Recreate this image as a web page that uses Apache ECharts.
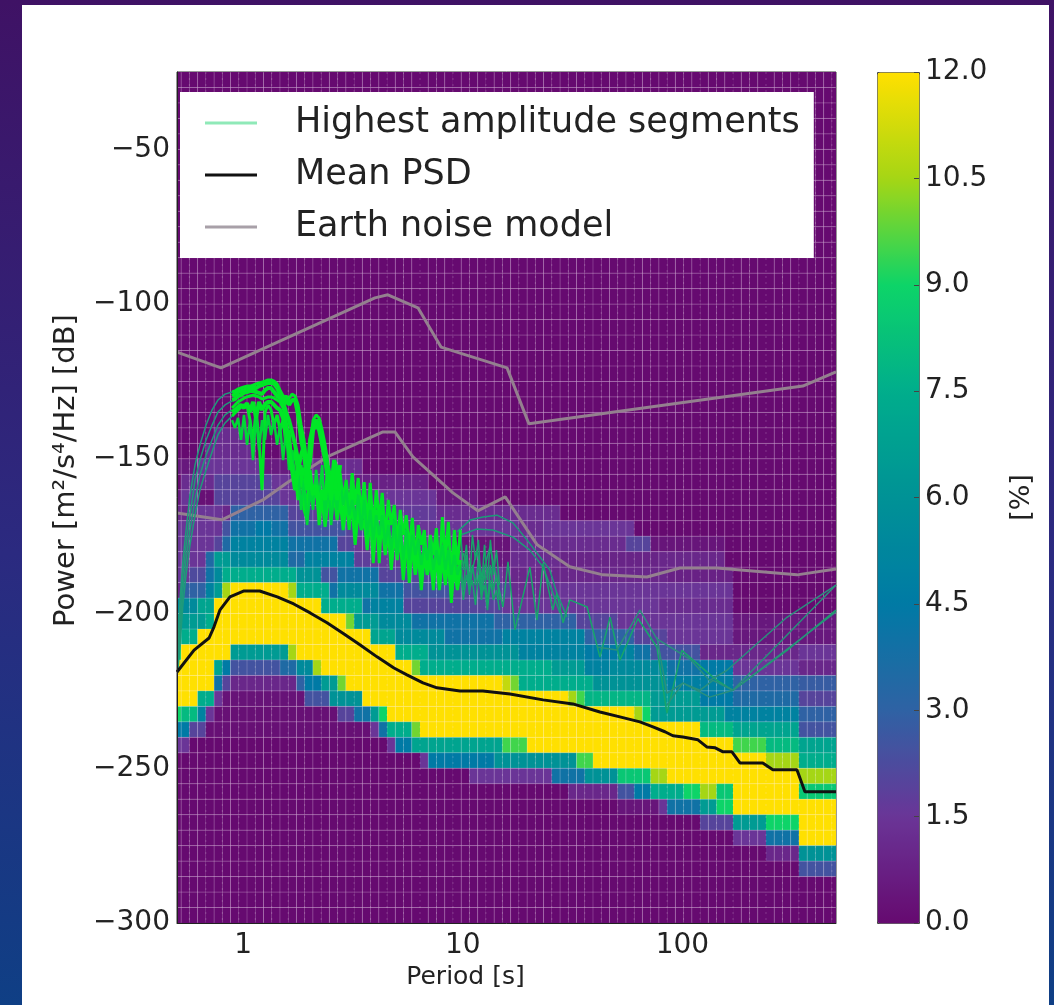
<!DOCTYPE html>
<html>
<head>
<meta charset="utf-8">
<script src="https://cdn.jsdelivr.net/npm/echarts@6/dist/echarts.min.js"></script>
<style>
  html, body { margin: 0; padding: 0; width: 1054px; height: 1005px; overflow: hidden;
    background: linear-gradient(180deg, #3f1265 0%, #2b2a80 55%, #0f3f85 100%); }
  #card { position: absolute; left: 22px; top: 5px; width: 1027px; height: 1000px; background: #fff; }
  #chart { position: absolute; left: 0; top: 0; width: 1054px; height: 1005px; }
</style>
</head>
<body>
<div id="card"></div>
<div id="chart"></div>
<script>
// histogram rows, key is the upper edge of a 5 dB bin, runs are [first column, last column, percent]
const rowM140 = [[5,8,1.2]]
const rowM145 = [[4,9,1.2]]
const rowM150 = [[0,2,0.5],[3,10,1.5],[11,15,0.6],[16,22,1.2]]
const rowM155 = [[1,4,1.2],[5,11,2],[12,21,1.5],[22,30,0.8]]
const rowM160 = [[0,0,0.5],[1,2,1.5],[3,4,0.2],[5,12,2],[13,31,1.5],[32,36,0.5]]
const rowM165 = [[0,1,1],[2,5,1.5],[6,6,1],[7,13,3],[14,16,2],[17,31,1.7],[32,46,1.2]]
const rowM170 = [[0,5,1.5],[6,6,2.5],[7,9,4],[10,11,4.5],[12,13,4],[14,20,2.5],[21,27,2],[28,41,1.5],[42,44,1.2],[45,55,1.5]]
const rowM175 = [[0,4,1.5],[5,5,2],[6,6,3.5],[7,13,5],[14,19,4],[20,21,2],[22,33,1.5],[34,40,0.3],[41,54,1.2],[55,57,2],[58,66,0.4]]
const rowM180 = [[0,3,1.5],[4,4,3.5],[5,6,6.5],[7,13,5.5],[14,15,3.5],[16,21,5],[22,23,1.8],[24,34,1.6],[35,40,0.5],[41,46,1.2],[47,58,0.9],[59,66,1]]
const rowM185 = [[0,1,1.5],[2,3,2.2],[4,4,4],[5,5,5.5],[6,14,7.5],[15,17,6],[18,19,2.5],[20,24,4],[25,33,2],[34,39,1.5],[40,59,1],[60,67,0.8]]
const rowM190 = [[0,0,1],[1,3,3],[4,4,5],[5,5,6.5],[6,6,10.5],[7,13,12],[14,14,10.5],[15,18,7.5],[19,19,4],[20,24,5.5],[25,27,4],[28,33,2.5],[34,40,2],[41,45,1.2],[46,67,1.5]]
const rowM195 = [[0,2,5.5],[3,4,7],[5,17,12],[18,22,7.5],[23,23,4],[24,27,5],[28,39,2],[40,58,1.5],[59,67,1.2]]
const rowM200 = [[0,3,6.5],[4,4,7.5],[5,20,12],[21,21,10],[22,24,6.5],[25,28,5.5],[29,38,4],[39,48,3],[49,53,2],[54,67,1.5],[68,80,0.5]]
const rowM205 = [[0,2,7.5],[3,23,12],[24,26,7],[27,32,5.5],[33,39,4],[40,49,5],[50,55,3],[56,59,2],[60,67,1.5],[68,80,0.5]]
const rowM210 = [[0,0,9],[1,6,12],[7,13,6.5],[14,14,10.5],[15,26,12],[27,30,7.5],[31,41,6],[42,49,5],[50,53,4.5],[54,55,5],[56,57,4],[58,63,2.5],[64,75,1],[76,80,1.5]]
const rowM215 = [[0,4,12],[5,5,7],[6,6,4.5],[7,12,2.5],[13,14,3.5],[15,16,5.5],[17,17,10.5],[18,28,12],[29,29,10],[30,45,7.5],[46,49,6.5],[50,52,5],[53,59,5.5],[60,63,4],[64,67,4.5],[68,75,1.5],[76,80,1]]
const rowM220 = [[0,4,12],[5,5,4],[6,6,2],[7,14,1],[15,15,3],[16,17,4.5],[18,19,6.5],[20,20,10],[21,39,12],[40,40,11],[41,41,10],[42,50,7.5],[51,59,6],[60,67,4.8],[68,75,3],[76,80,2.8]]
const rowM225 = [[0,2,12],[3,4,7.5],[5,5,1.5],[6,15,0.3],[16,18,2.5],[19,22,6],[23,47,12],[48,48,10.5],[49,49,9.5],[50,57,7.8],[58,63,6.5],[64,67,4.5],[68,75,3.5],[76,80,2]]
const rowM230 = [[0,0,9],[1,2,8],[3,3,5],[4,4,1.5],[5,19,0.2],[20,21,2],[22,23,4],[24,24,6.5],[25,25,9],[26,55,12],[56,56,10.5],[57,57,9],[58,66,6.5],[67,75,5],[76,80,3]]
const rowM235 = [[0,1,4.5],[2,3,2],[4,23,0.2],[24,24,1.5],[25,25,4],[26,28,7.5],[29,29,10],[30,63,12],[64,67,8],[68,75,7],[76,80,2.5]]
const rowM240 = [[0,1,1.5],[26,26,1.5],[27,28,4.5],[29,39,7],[40,42,9.5],[43,67,12],[68,71,9.5],[72,75,8],[76,80,7]]
const rowM245 = [[30,30,1.5],[31,38,4.5],[39,48,6],[49,50,9.5],[51,71,12],[72,75,10.5],[76,80,7.5]]
const rowM250 = [[36,45,1.5],[46,49,4],[50,53,6],[54,57,8.5],[58,59,10.5],[60,75,12],[76,80,10.5]]
const rowM255 = [[48,53,1],[54,55,2.5],[56,57,4.5],[58,61,7.5],[62,63,9],[64,65,10.5],[66,67,8.5],[68,75,12],[76,80,8.5]]
const rowM260 = [[54,58,0.4],[59,59,1.5],[60,63,4],[64,65,6.5],[66,67,9],[68,80,12]]
const rowM265 = [[64,67,2],[68,71,6.5],[72,75,9],[76,80,12]]
const rowM270 = [[68,71,1.5],[72,75,4],[76,80,12]]
const rowM275 = [[72,75,1],[76,80,6]]
const rowM280 = [[76,80,2.5]]

const rowsByPower = {
  '-140': rowM140, '-145': rowM145, '-150': rowM150, '-155': rowM155, '-160': rowM160, '-165': rowM165,
  '-170': rowM170, '-175': rowM175, '-180': rowM180, '-185': rowM185, '-190': rowM190, '-195': rowM195,
  '-200': rowM200, '-205': rowM205, '-210': rowM210, '-215': rowM215, '-220': rowM220, '-225': rowM225,
  '-230': rowM230, '-235': rowM235, '-240': rowM240, '-245': rowM245, '-250': rowM250, '-255': rowM255,
  '-260': rowM260, '-265': rowM265, '-270': rowM270, '-275': rowM275, '-280': rowM280
}

const meanPeriod = [0.5,0.598,0.7,0.737,0.785,0.871,1.01,1.19,1.43,1.7,2.02,2.41,2.88,3.4,4.07,4.86,5.57,6.59,7.63,9.71,12.35,16.4,23.2,31.7,42.1,51.9,64,73.4,83.2,90.5,100.5,117.6,129,141,153,168,183,232,258,332,361,500]
const meanPower = [-218.9,-211.8,-207.9,-204.3,-198.8,-194.6,-192.7,-192.7,-194.6,-196.9,-199.8,-203,-206.6,-210.1,-214,-217.6,-219.8,-222.4,-224,-225,-225,-226,-227.9,-229.2,-231.8,-233.4,-235,-236.6,-238.2,-239.5,-239.9,-240.8,-243.1,-243.4,-244.7,-244.7,-248.3,-248.3,-250.5,-250.5,-257.6,-257.6]

const earthHighPeriod = [0.5,0.793,3.98,4.56,6.25,7.96,15.9,20,353,500]
const earthHighPower = [-115.5,-120.6,-98,-97,-101.2,-113.9,-120.6,-138.7,-126.5,-121.9]
const earthLowPeriod = [0.5,0.8,1.23,1.58,2.41,4.33,4.91,5.93,9.02,11.7,15.6,21.8,30.7,43.5,68.9,97.4,143.5,332,500]
const earthLowPower = [-167.5,-169.7,-163.3,-157.8,-149.4,-141.3,-141.3,-149.4,-161,-166.8,-162.3,-177.8,-184.9,-187.5,-188.2,-185.3,-185.3,-187.5,-185.6]

// rising flank of the highest amplitude segments
const risePeriod = [0.505,0.516,0.532,0.55,0.573,0.604,0.636,0.678,0.722,0.768,0.827,0.89]
const riseA = [-213.4,-195.6,-182.7,-173,-161.7,-152,-145.5,-139.1,-134.2,-131,-129.1,-128.4]
const riseB = [-215,-202.1,-187.5,-177.8,-168.2,-156.8,-150.4,-143.9,-139.1,-134.9,-132.6,-131.3]
const riseC = [-216.6,-206.9,-192.4,-182.7,-173,-163.3,-155.2,-148.8,-143.9,-139.1,-135.8,-134.2]
const riseD = [-218.2,-210.2,-197.2,-187.5,-177.8,-168.2,-160.1,-153.6,-147.8,-142.3,-138.4,-136.2]

// the noisy bright bundle
const bundlePeriod = [0.89,0.918,0.948,0.978,1.009,1.042,1.075,1.109,1.145,1.181,1.219,1.258,1.298,1.34,1.383,1.427,1.473,1.52,1.568,1.618,1.67,1.724,1.779,1.836,1.894,1.955,2.018,2.082,2.149,2.218,2.289,2.362,2.438,2.516,2.596,2.679,2.765,2.854,2.945,3.039,3.137,3.237,3.341,3.448,3.558,3.672,3.79,3.911,4.036,4.165,4.299,4.436,4.578,4.725,4.876,5.032,5.193,5.359,5.531,5.708,5.891,6.079,6.274,6.475,6.682,6.896,7.116,7.344,7.579,7.822,8.072,8.331,8.597,8.872,9.156,9.45,9.752,10.06,10.39,10.72,11.06,11.42,11.78,12.16,12.55,12.95,13.36,13.79,14.23,14.69]
const bundleA = [-128.4,-128.1,-127.4,-127.1,-126.8,-126.5,-126.5,-126.2,-125.8,-125.5,-125.2,-124.9,-124.5,-124.5,-124.9,-125.8,-127.8,-129.7,-132.3,-130.4,-129.1,-129.7,-132.6,-139.1,-143.9,-153.6,-147.2,-137.5,-135.8,-136.8,-140.7,-145.5,-152,-156.8,-153.6,-156.8,-154.6,-163.3,-156.8,-166.5,-154.6,-164.9,-156.2,-168.2,-157.5,-171.4,-157.8,-173,-160.1,-169.8,-161,-176.2,-163.3,-171.4,-164.9,-177.8,-166.5,-174.6,-168.2,-179.5,-169.1,-182.7,-171.4,-177.8,-173,-185.9,-174.6,-181.1,-172.4,-187.5,-168.8,-182.7,-170.4,-189.2,-173,-184.3,-173,-185.9,-177.8,-190.8,-174.6,-182.7,-176.2,-192.4,-177.8,-189.2,-176.2,-187.5,-179.5,-190.8]
const bundleB = [-133.6,-132.6,-131.6,-131,-130.4,-130,-129.7,-129.4,-129.7,-130,-130.7,-130.4,-130,-130,-130.4,-131,-131.6,-133.6,-137.5,-143.9,-149.7,-155.2,-163.3,-153.6,-160.1,-164.9,-153.6,-161.7,-156.8,-171.4,-160.1,-166.5,-156.2,-169.8,-158.5,-168.2,-160.1,-169.8,-161.7,-173,-160.1,-174.6,-163.3,-171.4,-164.9,-176.2,-163.3,-177.8,-166.5,-183.7,-164.9,-179.5,-169.8,-184.3,-171.4,-182.7,-173,-185.9,-174.6,-190.1,-176.2,-185.9,-177.8,-189.2,-176.2,-187.5,-179.5,-192.4,-177.8,-185.9,-179.5,-190.8,-181.1,-196.6,-179.5,-189.2,-182.7,-192.4,-181.1,-194,-184.3,-190.8,-182.7,-195.6,-185.9,-197.2,-184.3,-192.4,-187.5,-195.6]
const bundleC = [-136.2,-135.2,-134.2,-133.3,-132.6,-132.6,-137.5,-144.9,-134.2,-143.9,-160.1,-134.9,-132.6,-134.2,-139.1,-135.8,-140.7,-137.5,-145.5,-140.7,-152,-147.2,-156.2,-152,-166.5,-169.8,-156.8,-163.3,-160.1,-168.2,-163.3,-172,-163.3,-166.5,-161.7,-169.8,-163.3,-173,-164.9,-169.8,-166.5,-177.8,-166.5,-173,-169.8,-179.5,-168.2,-183.7,-169.8,-177.8,-171.4,-181.1,-173,-185.9,-174.6,-181.1,-176.2,-189.2,-177.8,-184.3,-179.5,-187.5,-181.1,-192.4,-181.1,-187.5,-182.7,-190.8,-181.1,-192.4,-182.7,-189.2,-184.3,-194,-185.9,-192.4,-185.9,-195.6,-187.5,-192.4,-189.2,-197.2,-187.5,-194,-190.8,-198.9,-189.2,-195.6,-192.4,-198.9]

// extra segments that fill the two arms and the lobes, same periods as the start of the bundle
const blobD = [-129.7,-129.1,-128.4,-128.1,-127.8,-127.4,-127.4,-127.1,-127.1,-126.5,-126.2,-125.8,-125.5,-125.5,-125.8,-127.1,-129.4,-131.6,-134.9,-137.5,-141.3,-145.5,-150.4,-155.2,-153,-160.1,-156.2,-161.7,-158.5,-164.9,-160.1,-163.3,-153.6,-161.7,-156.8,-163.3,-158.5]
const blobE = [-134.9,-134.2,-133.3,-132.6,-133.6,-132,-134.9,-131.6,-136.8,-131.6,-134.2,-132.3,-131.6,-131.6,-132.6,-133.6,-134.2,-136.8,-141.3,-147.2,-153.6,-160.1,-153.6,-148.8,-145.5,-155.2,-150.4,-140.7,-139.1,-140.7,-145.5,-150.4,-156.8,-163.3,-153.6,-160.1,-152]
const blobF = [-131,-130.7,-129.7,-129.4,-128.7,-128.4,-128.1,-128.1,-128.4,-128.7,-129.1,-127.8,-127.1,-127.1,-128.4,-129.7,-130.4,-131,-129.7,-132.6,-131,-131,-135.8,-143.9,-148.8,-156.8,-143.9,-139.1,-137.5,-139.1,-143.3,-148.8,-155.2,-160.1,-150.4,-153.6,-160.1]
const blobG = [-137.5,-140,-136.8,-143.9,-135.8,-145.5,-137.5,-150.4,-135.8,-147.2,-137.5,-143.9,-135.8,-142.3,-137.5,-145.5,-139.1,-150.4,-140.7,-153.6,-147.2,-160.1,-153.6,-166.5,-156.8,-171.4,-160.1,-166.5,-153.6,-163.3,-152,-169.8,-156.8,-171.4,-160.1,-166.5,-156.8,-164.9,-160.1,-168.2,-163.3,-169.8,-161.7,-173,-163.3,-174.6,-166.5,-176.2,-168.2,-174.6,-168.2,-177.8,-171.4,-179.5,-169.8,-181.1,-171.4,-182.7,-173,-182.7,-174.6,-181.1,-176.2,-184.3,-177.8,-182.7,-176.2,-185.9,-179.5,-184.3,-177.8,-185.9,-179.5,-187.5,-181.1,-187.5,-184.3]

// thin tails at the long period end
const tail1Period = [9.41,10.78,12.35,14.31,16.92,19.6,22.45,24.9,26.8,29.8]
const tail1Power = [-173.6,-169.8,-168.8,-168.2,-170.7,-176.2,-181.7,-185.9,-193.4,-201.1]
const tail2Period = [9.75,11.6,13.7,16.92,20.2,23.2,25.7,27.7]
const tail2Power = [-174.6,-172.7,-173,-175.3,-179.5,-185,-193.4,-199.8]
const tail3Period = [10.06,10.78,11.6,12.22,13.3,15.24,16.06,17.28,20.2,21.76,23.2,25.7,26.8,28.6,30.7,36.8,42.1,46.8,51.9,62.7,76.5,85,99.4,116.4,143.5,169.7,299,500]
const tail3Power = [-180.4,-189.2,-179.5,-188.2,-178.5,-197.9,-183.3,-205.3,-185,-202.1,-183.7,-198.9,-193.4,-203,-195.6,-197.9,-214.1,-201.2,-215.1,-201.6,-210.9,-232.2,-211.9,-216.1,-221.6,-224.8,-211.9,-198.9]
const tail4Period = [76.5,85,100.5,133,169.7,500]
const tail4Power = [-207.6,-225.7,-222.5,-227,-224.8,-190.8]
const tail5Period = [85,100.5,120,137.6,169.7,500]
const tail5Power = [-229.5,-222.5,-224.8,-221.6,-224.8,-199.5]
const tail6Period = [40.8,50.3,64,76.5,108,133,159,299,500]
const tail6Power = [-210.8,-211.8,-198.9,-208.2,-214.7,-221.6,-218.4,-201.2,-190.8]

const xTicks = ['1', '10', '100']
const colorbarStops = ['#660a70', '#6a3597', '#2f62a4', '#007aa5', '#009296', '#00ad8c', '#0dd468', '#a5d615', '#ffe000']

const LEGEND_GREEN = 'Highest amplitude segments'
const LEGEND_MEAN = 'Mean PSD'
const LEGEND_EARTH = 'Earth noise model'
const FONT = 'DejaVu Sans'

// period bins are log spaced, 80 steps over 0.5 to 500 s, column 0 is centred on the left edge
const binEdge = c => 0.5 * Math.pow(1000, (c - 0.5) / 80)
const COLS = 81
const TOP = -25
const BOTTOM = -300

function zip (xs, ys) {
  return ys.map((y, i) => [xs[i], y])
}

function buildCells () {
  const cells = []
  for (let top = TOP; top > BOTTOM; top -= 5) {
    const runs = rowsByPower[top] || []
    for (let c = 0; c < COLS; c++) {
      const run = runs.find(r => c >= r[0] && c <= r[1])
      cells.push([binEdge(c), binEdge(c + 1), top, top - 5, run ? run[2] : 0])
    }
  }
  return cells
}

function renderCell (params, api) {
  const a = api.coord([api.value(0), api.value(2)])
  const b = api.coord([api.value(1), api.value(3)])
  const shape = echarts.graphic.clipRectByRect(
    { x: a[0], y: a[1], width: b[0] - a[0], height: b[1] - a[1] },
    { x: params.coordSys.x, y: params.coordSys.y, width: params.coordSys.width, height: params.coordSys.height }
  )
  return shape && { type: 'rect', shape, style: { fill: api.visual('color') }, silent: true }
}

function renderVertical (params, api) {
  const a = api.coord([api.value(0), TOP])
  const b = api.coord([api.value(0), BOTTOM])
  return {
    type: 'line',
    shape: { x1: a[0], y1: a[1], x2: b[0], y2: b[1] },
    style: {
      stroke: 'rgba(255,235,255,0.2)',
      lineWidth: 1,
      lineDash: api.value(1) ? null : [2, 4]
    },
    silent: true
  }
}

function renderHorizontal (params, api) {
  const a = api.coord([0.5, api.value(0)])
  const b = api.coord([500, api.value(0)])
  return {
    type: 'line',
    shape: { x1: a[0], y1: a[1], x2: b[0], y2: b[1] },
    style: { stroke: 'rgba(255,235,255,0.2)', lineWidth: 1 },
    silent: true
  }
}

const verticalEdges = []
for (let c = 1; c < COLS; c++) verticalEdges.push([binEdge(c), c % 2 ? 1 : 0])
const horizontalEdges = []
for (let p = TOP - 5; p > BOTTOM; p -= 5) horizontalEdges.push([p])

function line (name, data, color, width) {
  return {
    name,
    type: 'line',
    data,
    showSymbol: false,
    silent: true,
    lineStyle: { color, width },
    itemStyle: { color },
    clip: true,
    z: 3
  }
}

const brightBundle = ys => zip(bundlePeriod, ys).filter(p => p[0] <= 10)
const fadedBundle = ys => zip(bundlePeriod, ys).filter(p => p[0] >= 9.7)

const series = [
  {
    type: 'custom',
    renderItem: renderCell,
    data: buildCells(),
    encode: { x: [0, 1], y: [2, 3] },
    progressive: 0,
    silent: true,
    z: 1
  },
  { type: 'custom', renderItem: renderVertical, data: verticalEdges, encode: { x: 0 }, progressive: 0, silent: true, z: 2 },
  { type: 'custom', renderItem: renderHorizontal, data: horizontalEdges, encode: { y: 0 }, progressive: 0, silent: true, z: 2 },
  line(LEGEND_EARTH, zip(earthHighPeriod, earthHighPower), '#94808f', 3),
  line(LEGEND_EARTH, zip(earthLowPeriod, earthLowPower), '#94808f', 3),
  line(LEGEND_GREEN, zip(risePeriod, riseA), '#1f9a7a', 1.5),
  line(LEGEND_GREEN, zip(risePeriod, riseB), '#1f9a7a', 1.5),
  line(LEGEND_GREEN, zip(risePeriod, riseC), '#1f9a7a', 1.5),
  line(LEGEND_GREEN, zip(risePeriod, riseD), '#1f9a7a', 1.5),
  line(LEGEND_GREEN, fadedBundle(bundleA), '#17a56a', 1.5),
  line(LEGEND_GREEN, fadedBundle(bundleB), '#17a56a', 1.5),
  line(LEGEND_GREEN, fadedBundle(bundleC), '#17a56a', 1.5),
  line(LEGEND_GREEN, zip(tail1Period, tail1Power), '#1c9a78', 1.5),
  line(LEGEND_GREEN, zip(tail2Period, tail2Power), '#1c9a78', 1.5),
  line(LEGEND_GREEN, zip(tail3Period, tail3Power), '#17a56a', 1.5),
  line(LEGEND_GREEN, zip(tail4Period, tail4Power), '#2a8f7c', 1.5),
  line(LEGEND_GREEN, zip(tail5Period, tail5Power), '#2a8f7c', 1.5),
  line(LEGEND_GREEN, zip(tail6Period, tail6Power), '#2a8f7c', 1.5),
  line(LEGEND_GREEN, brightBundle(bundleA), '#00e626', 3),
  line(LEGEND_GREEN, brightBundle(bundleB), '#00e626', 3),
  line(LEGEND_GREEN, brightBundle(bundleC), '#00e626', 3),
  line(LEGEND_GREEN, zip(bundlePeriod, blobG), '#00d836', 2.5),
  line(LEGEND_GREEN, zip(bundlePeriod, blobD), '#00e626', 4),
  line(LEGEND_GREEN, zip(bundlePeriod, blobE), '#00e626', 4),
  line(LEGEND_GREEN, zip(bundlePeriod, blobF), '#00e626', 4),
  line(LEGEND_MEAN, zip(meanPeriod, meanPower), '#111111', 3)
]

const chart = echarts.init(document.getElementById('chart'))
chart.setOption({
  animation: false,
  backgroundColor: 'transparent',
  textStyle: { fontFamily: FONT },
  grid: [
    { left: 177, top: 72, width: 659, height: 851, show: true, borderColor: '#333', borderWidth: 1 },
    { left: 877, top: 72, width: 42, height: 851 }
  ],
  xAxis: [
    {
      type: 'log',
      gridIndex: 0,
      min: 0.5,
      max: 500,
      name: 'Period [s]',
      nameLocation: 'middle',
      nameGap: 41,
      nameTextStyle: { fontSize: 25, color: '#222', fontFamily: FONT, padding: [0, 82, 0, 0] },
      axisLine: { show: true, onZero: false, lineStyle: { color: '#222' } },
      axisTick: { show: false },
      minorTick: { show: false },
      splitLine: { show: false },
      axisLabel: {
        fontSize: 28,
        color: '#222',
        margin: 9,
        fontFamily: FONT,
        showMinLabel: false,
        showMaxLabel: false,
        formatter: v => xTicks.includes(String(Math.round(v))) ? String(Math.round(v)) : ''
      },
      z: 5
    },
    { type: 'value', gridIndex: 1, show: false, min: 0, max: 1 }
  ],
  yAxis: [
    {
      type: 'value',
      gridIndex: 0,
      min: BOTTOM,
      max: TOP,
      interval: 50,
      name: 'Power [m²/s⁴/Hz] [dB]',
      nameLocation: 'middle',
      nameGap: 96,
      nameTextStyle: { fontSize: 29, color: '#222', fontFamily: FONT, padding: [0, 0, 0, 54] },
      axisLine: { show: true, onZero: false, lineStyle: { color: '#222' } },
      axisTick: { show: false },
      splitLine: { show: false },
      axisLabel: {
        fontSize: 28,
        color: '#222',
        margin: 7,
        fontFamily: FONT,
        showMaxLabel: false,
        formatter: v => String(v).replace('-', '\u2212')
      },
      z: 5
    },
    {
      type: 'value',
      gridIndex: 1,
      position: 'right',
      min: 0,
      max: 12,
      interval: 1.5,
      name: '[%]',
      nameLocation: 'middle',
      nameGap: 89,
      nameRotate: 90,
      nameTextStyle: { fontSize: 27, color: '#222', fontFamily: FONT },
      axisLine: { show: false, onZero: false },
      axisTick: { show: true, inside: true, length: 5, lineStyle: { color: '#444' } },
      splitLine: { show: false },
      axisLabel: { fontSize: 28, color: '#222', margin: 6, fontFamily: FONT, formatter: v => v.toFixed(1) },
      z: 6
    }
  ],
  visualMap: {
    type: 'continuous',
    seriesIndex: 0,
    dimension: 4,
    min: 0,
    max: 12,
    left: 877,
    top: 72,
    itemWidth: 42,
    itemHeight: 851,
    padding: 0,
    borderColor: '#444',
    borderWidth: 1,
    calculable: false,
    realtime: false,
    hoverLink: false,
    text: null,
    showLabel: false,
    z: 1,
    inRange: { color: colorbarStops }
  },
  legend: {
    left: 180,
    top: 92,
    orient: 'vertical',
    backgroundColor: '#fff',
    padding: [12, 14, 12, 25],
    itemWidth: 52,
    itemHeight: 3,
    itemGap: 14,
    icon: 'rect',
    selectedMode: false,
    textStyle: { fontSize: 35, color: '#222', padding: [0, 0, 0, 33], fontFamily: FONT, lineHeight: 38 },
    data: [
      { name: LEGEND_GREEN, itemStyle: { color: '#8fe9b8' } },
      { name: LEGEND_MEAN, itemStyle: { color: '#111' } },
      { name: LEGEND_EARTH, itemStyle: { color: '#a8a0a8' } }
    ]
  },
  series
})
</script>
</body>
</html>
